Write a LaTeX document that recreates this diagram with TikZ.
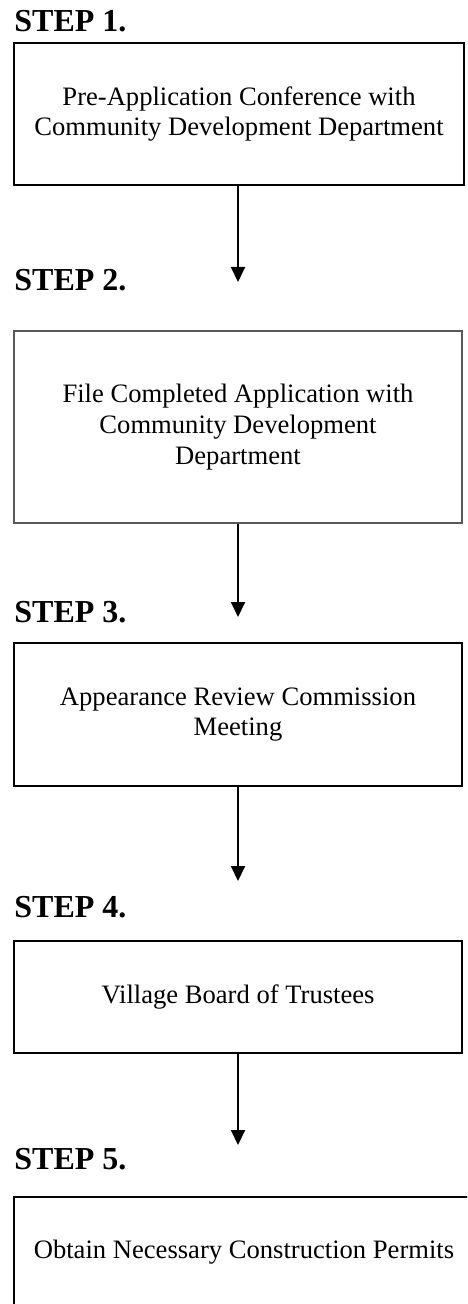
\documentclass[tikz,border=0pt]{standalone}
\usepackage{fontspec}
\setmainfont{Liberation Serif}
\usetikzlibrary{arrows.meta, positioning}

\begin{document}
\begin{tikzpicture}[x=0.5pt,y=-0.5pt,>={Triangle[width=7pt,length=7.5pt]},
        stepbox/.style={draw=black,line width=1pt,inner sep=0pt,align=center,
            font=\fontsize{13.3}{15.4}\selectfont},
        steplabel/.style={anchor=base west,inner sep=0pt,font=\fontsize{16}{19}\selectfont\bfseries},
        flow/.style={->,line width=1pt}]

  \useasboundingbox (0,0) rectangle (467,1304);
  \clip (0,0) rectangle (467,1304);

  \node[steplabel] (lab1) at (14,32)   {STEP 1.};
  \node[steplabel] (lab2) at (14,291)  {STEP 2.};
  \node[steplabel] (lab3) at (14,622)  {STEP 3.};
  \node[steplabel] (lab4) at (14,917)  {STEP 4.};
  \node[steplabel] (lab5) at (14,1169) {STEP 5.};

  \node[stepbox,minimum width=225pt,minimum height=71pt] (pre) at (239,114)
       {Pre-Application Conference with\\Community Development Department};
  \node[stepbox,draw=black!65,line width=0.8pt,minimum width=224pt,minimum height=96pt] (file) at (238,427)
       {File Completed Application with\\Community Development\\Department};
  \node[stepbox,minimum width=224pt,minimum height=71.5pt] (arc) at (238,714.5)
       {Appearance Review Commission\\Meeting};
  \node[stepbox,minimum width=224pt,minimum height=56pt] (board) at (238,997)
       {Village Board of Trustees};
  \node[stepbox,minimum width=230pt,minimum height=55pt] (permits) at (244,1252)
       {Obtain Necessary Construction Permits};

  % arrow tips stop above the step labels
  \coordinate (tip1) at (238,282);
  \coordinate (tip2) at (238,617);
  \coordinate (tip3) at (238,881);
  \coordinate (tip4) at (238,1145);

  \draw[flow] (pre.south -| tip1) -- (tip1);
  \draw[flow] (file.south -| tip2) -- (tip2);
  \draw[flow] (arc.south -| tip3) -- (tip3);
  \draw[flow] (board.south -| tip4) -- (tip4);
\end{tikzpicture}
\end{document}
